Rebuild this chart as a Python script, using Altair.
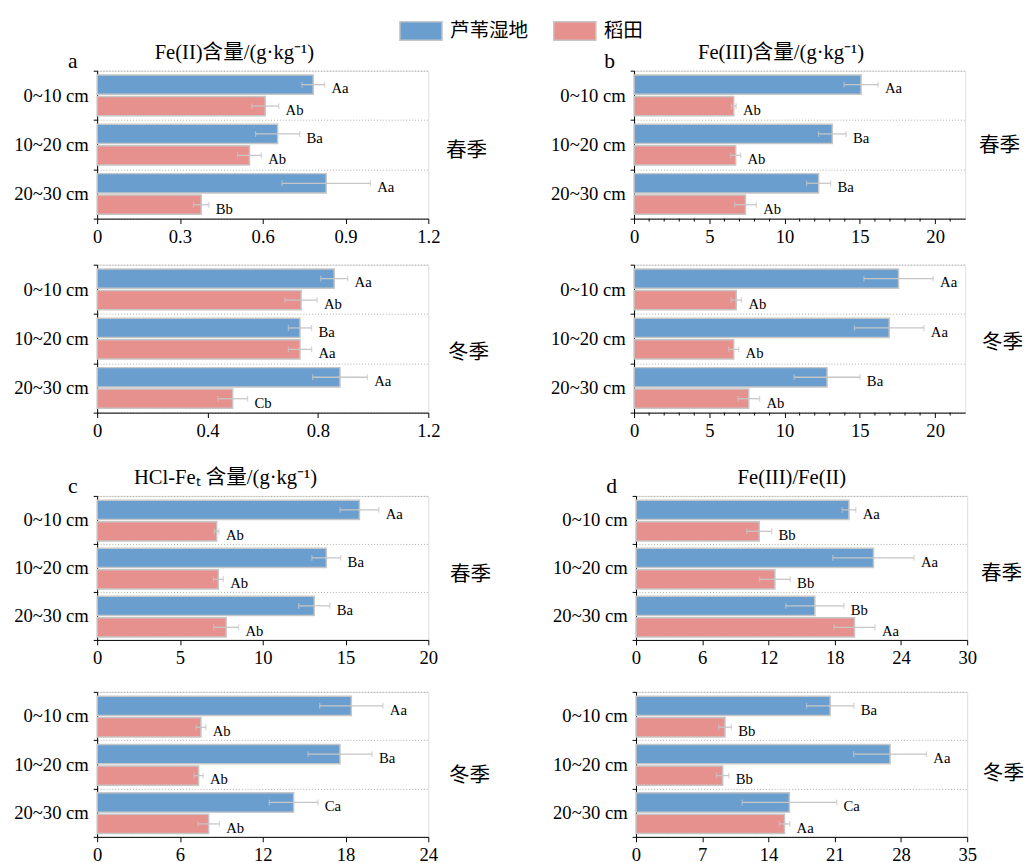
import altair as alt
import pandas as pd

depths = ["0~10 cm", "10~20 cm", "20~30 cm"]
sites = ["芦苇湿地", "稻田"]
seasons = ["春季", "冬季"]
site_colors = ["#6a9ecf", "#e6918e"]
panel_letters = ["a", "b", "c", "d"]
panel_titles = ["Fe(II)含量/(g·kg⁻¹)", "Fe(III)含量/(g·kg⁻¹)", "HCl-Feₜ 含量/(g·kg⁻¹)", "Fe(III)/Fe(II)"]

# (a) Fe(II)
a_spring_reed = [0.783, 0.654, 0.830]
a_spring_reed_err = [0.041, 0.080, 0.160]
a_spring_reed_sig = ["Aa", "Ba", "Aa"]
a_spring_paddy = [0.609, 0.552, 0.377]
a_spring_paddy_err = [0.049, 0.043, 0.028]
a_spring_paddy_sig = ["Ab", "Ab", "Bb"]
a_winter_reed = [0.859, 0.735, 0.880]
a_winter_reed_err = [0.049, 0.042, 0.099]
a_winter_reed_sig = ["Aa", "Ba", "Aa"]
a_winter_paddy = [0.739, 0.735, 0.491]
a_winter_paddy_err = [0.058, 0.042, 0.054]
a_winter_paddy_sig = ["Ab", "Aa", "Cb"]
a_spring_ticks = [0, 0.3, 0.6, 0.9, 1.2]
a_winter_ticks = [0, 0.4, 0.8, 1.2]

# (b) Fe(III)
b_spring_reed = [15.08, 13.17, 12.26]
b_spring_reed_err = [1.13, 0.92, 0.80]
b_spring_reed_sig = ["Aa", "Ba", "Ba"]
b_spring_paddy = [6.62, 6.75, 7.40]
b_spring_paddy_err = [0.16, 0.33, 0.72]
b_spring_paddy_sig = ["Ab", "Ab", "Ab"]
b_winter_reed = [17.57, 16.95, 12.82]
b_winter_reed_err = [2.30, 2.31, 2.19]
b_winter_reed_sig = ["Aa", "Aa", "Ba"]
b_winter_paddy = [6.79, 6.62, 7.62]
b_winter_paddy_err = [0.35, 0.33, 0.72]
b_winter_paddy_sig = ["Ab", "Ab", "Ab"]
b_ticks = [0, 5, 10, 15, 20]
b_minor_ticks = [1, 2, 3, 4, 6, 7, 8, 9, 11, 12, 13, 14, 16, 17, 18, 19, 21]
b_max = 22

# (c) HCl-Fet
c_spring_reed = [15.84, 13.84, 13.11]
c_spring_reed_err = [1.17, 0.87, 0.94]
c_spring_reed_sig = ["Aa", "Ba", "Ba"]
c_spring_paddy = [7.22, 7.32, 7.79]
c_spring_paddy_err = [0.14, 0.30, 0.75]
c_spring_paddy_sig = ["Ab", "Ab", "Ab"]
c_winter_reed = [18.42, 17.60, 14.24]
c_winter_reed_err = [2.29, 2.32, 1.76]
c_winter_reed_sig = ["Aa", "Ba", "Ca"]
c_winter_paddy = [7.52, 7.35, 8.08]
c_winter_paddy_err = [0.36, 0.33, 0.77]
c_winter_paddy_sig = ["Ab", "Ab", "Ab"]
c_spring_ticks = [0, 5, 10, 15, 20]
c_winter_ticks = [0, 6, 12, 18, 24]

# (d) Fe(III)/Fe(II)
d_spring_reed = [19.29, 21.51, 16.20]
d_spring_reed_err = [0.62, 3.68, 2.63]
d_spring_reed_sig = ["Aa", "Aa", "Bb"]
d_spring_paddy = [11.16, 12.58, 19.79]
d_spring_paddy_err = [1.13, 1.39, 1.86]
d_spring_paddy_sig = ["Bb", "Bb", "Aa"]
d_winter_reed = [20.52, 26.85, 16.21]
d_winter_reed_err = [2.50, 3.85, 4.99]
d_winter_reed_sig = ["Ba", "Aa", "Ca"]
d_winter_paddy = [9.40, 9.16, 15.69]
d_winter_paddy_err = [0.67, 0.66, 0.55]
d_winter_paddy_sig = ["Bb", "Bb", "Aa"]
d_spring_ticks = [0, 6, 12, 18, 24, 30]
d_winter_ticks = [0, 7, 14, 21, 28, 35]

SERIF = "Liberation Serif"
CJK = "Noto Sans CJK SC"
MIXED = "Liberation Serif, Noto Sans CJK SC"
GRAY = "#c6c6c6"

legend = alt.Legend(
    orient="none", legendX=319, legendY=-52, direction="horizontal", title=None,
    symbolType="M-2.05,-0.9H2.05V0.9H-2.05Z", symbolSize=441, symbolStrokeColor=GRAY,
    symbolStrokeWidth=1.5, symbolOpacity=1, labelFont=CJK, labelFontSize=20,
    labelOffset=18, columnPadding=22, padding=0, labelColor="black",
)


def panel(reed, reed_err, reed_sig, paddy, paddy_err, paddy_sig, ticks, xmax,
          season, w, h, season_dx, season_dy, title=None, letter=None, title_dx=0,
          minor=None):
    df = pd.DataFrame({
        "depth": depths * 2,
        "site": [sites[0]] * 3 + [sites[1]] * 3,
        "value": reed + paddy,
        "err": reed_err + paddy_err,
        "sig": reed_sig + paddy_sig,
    })
    xs = alt.Scale(domain=[0, xmax], nice=False, zero=True)
    xaxis = alt.Axis(title=None, values=ticks, grid=False, tickSize=5, labelFont=SERIF,
                     labelFontSize=19, labelPadding=4, labelFlush=False, labelOverlap=False,
                     domainColor="black", tickColor="black", labelColor="black", format="~g")

    def xenc(field):
        return alt.X(field, scale=xs, axis=xaxis)

    y = alt.Y("depth:N", sort=depths,
              scale=alt.Scale(domain=depths, paddingInner=0, paddingOuter=0),
              axis=alt.Axis(title=None, tickBand="extent", grid=True, gridColor="#aaaaaa",
                            gridDash=[1, 2], gridWidth=1, tickSize=4, labelPadding=5,
                            labelFont=SERIF, labelFontSize=19, labelColor="black",
                            domainColor="black", tickColor="black"))
    yo = alt.YOffset("site:N", sort=sites,
                     scale=alt.Scale(domain=sites, paddingInner=0.1, paddingOuter=0.2))
    base = alt.Chart(df).transform_calculate(lo="datum.value - datum.err",
                                             hi="datum.value + datum.err")
    bars = base.mark_bar(stroke=GRAY, strokeWidth=1.5).encode(
        x=xenc("value:Q"), y=y, yOffset=yo,
        color=alt.Color("site:N", scale=alt.Scale(domain=sites, range=site_colors), legend=legend),
    )
    err = base.mark_rule(color=GRAY, strokeWidth=1.3).encode(
        x=xenc("lo:Q"), x2="hi:Q", y=y, yOffset=yo)
    cap_lo = base.mark_tick(color=GRAY, thickness=1.3, size=6).encode(x=xenc("lo:Q"), y=y, yOffset=yo)
    cap_hi = base.mark_tick(color=GRAY, thickness=1.3, size=6).encode(x=xenc("hi:Q"), y=y, yOffset=yo)
    labels = base.mark_text(align="left", baseline="middle", dx=7, dy=4, font=SERIF,
                            fontSize=15, color="black").encode(
        x=xenc("hi:Q"), y=y, yOffset=yo, text="sig:N")
    season_t = alt.Chart(pd.DataFrame({"s": [season]})).mark_text(
        align="left", baseline="middle", font=CJK, fontSize=21, color="black").encode(
        text="s:N", x=alt.value(w + season_dx), y=alt.value(h / 2 + season_dy))
    layers = [bars, err, cap_lo, cap_hi, labels, season_t]
    if minor is not None:
        layers.append(alt.Chart(pd.DataFrame({"m": minor})).mark_rule(color="black").encode(
            x=xenc("m:Q"), y=alt.value(h), y2=alt.value(h + 3)))
    if letter is not None:
        layers.append(alt.Chart(pd.DataFrame({"l": [letter]})).mark_text(
            align="center", baseline="middle", font=SERIF, fontSize=22, color="black").encode(
            text="l:N", x=alt.value(-25), y=alt.value(-10)))
    if title is not None:
        layers.append(alt.Chart(pd.DataFrame({"t": [title]})).mark_text(
            align="center", baseline="middle", font=MIXED, fontSize=21, color="black").encode(
            text="t:N", x=alt.value(w / 2 + title_dx), y=alt.value(-18)))
    return alt.layer(*layers).properties(width=w, height=h)


W = 338
H1, H2, H3, H4 = 151, 151, 147, 148

a1 = panel(a_spring_reed, a_spring_reed_err, a_spring_reed_sig, a_spring_paddy, a_spring_paddy_err,
           a_spring_paddy_sig, a_spring_ticks, 1.2, seasons[0], W, H1, 18, 7,
           panel_titles[0], panel_letters[0], title_dx=-29)
a2 = panel(a_winter_reed, a_winter_reed_err, a_winter_reed_sig, a_winter_paddy, a_winter_paddy_err,
           a_winter_paddy_sig, a_winter_ticks, 1.2, seasons[1], W, H2, 20, 15)
b1 = panel(b_spring_reed, b_spring_reed_err, b_spring_reed_sig, b_spring_paddy, b_spring_paddy_err,
           b_spring_paddy_sig, b_ticks, b_max, seasons[0], W, H1, 14, 1,
           panel_titles[1], panel_letters[1], title_dx=-19, minor=b_minor_ticks)
b2 = panel(b_winter_reed, b_winter_reed_err, b_winter_reed_sig, b_winter_paddy, b_winter_paddy_err,
           b_winter_paddy_sig, b_ticks, b_max, seasons[1], W, H2, 17, 5, minor=b_minor_ticks)
c1 = panel(c_spring_reed, c_spring_reed_err, c_spring_reed_sig, c_spring_paddy, c_spring_paddy_err,
           c_spring_paddy_sig, c_spring_ticks, 20, seasons[0], W, H3, 22, 7,
           panel_titles[2], panel_letters[2], title_dx=-38)
c2 = panel(c_winter_reed, c_winter_reed_err, c_winter_reed_sig, c_winter_paddy, c_winter_paddy_err,
           c_winter_paddy_sig, c_winter_ticks, 24, seasons[1], W, H4, 21, 12)
d1 = panel(d_spring_reed, d_spring_reed_err, d_spring_reed_sig, d_spring_paddy, d_spring_paddy_err,
           d_spring_paddy_sig, d_spring_ticks, 30, seasons[0], W, H3, 14, 6,
           panel_titles[3], panel_letters[3], title_dx=-10)
d2 = panel(d_winter_reed, d_winter_reed_err, d_winter_reed_sig, d_winter_paddy, d_winter_paddy_err,
           d_winter_paddy_sig, d_winter_ticks, 35, seasons[1], W, H4, 16, 10)

top = alt.concat(a1, b1, a2, b2, columns=2, spacing={"row": 8, "column": 61})
bottom = alt.concat(c1, d1, c2, d2, columns=2, spacing={"row": 14, "column": 61})

chart = alt.vconcat(top, bottom, spacing=26).properties(
    padding={"left": 5, "top": 3, "right": 0, "bottom": 5}
).configure_view(stroke="black", strokeWidth=1.2).configure(background="white")

chart.save("out.html", embed_options={"renderer": "svg", "actions": False})
